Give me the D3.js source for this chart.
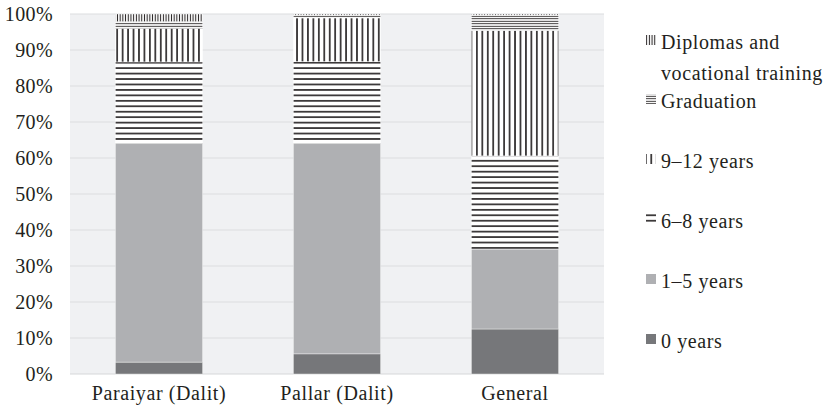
<!DOCTYPE html>
<html>
<head>
<meta charset="utf-8">
<script src="https://cdn.jsdelivr.net/npm/d3@7"></script>
<style>
  body { margin: 0; background: #fff; }
  svg { display: block; }
  text { font-family: "Liberation Serif", "Times New Roman", serif; fill: #231f20; }
</style>
</head>
<body>
<svg id="chart" width="839" height="417"></svg>
<script>
// Educational attainment by community (share of respondents, %)
const categories = ["Paraiyar (Dalit)", "Pallar (Dalit)", "General"];
const seriesNames = ["0 years", "1–5 years", "6–8 years", "9–12 years", "Graduation", "Diplomas and vocational training"];
const zeroYears    = [3.3, 5.6, 12.5];
const oneToFive    = [60.8, 58.5, 22.2];
const sixToEight   = [22.6, 22.7, 25.9];
const nineToTwelve = [9.3, 12.1, 34.8];
const graduation   = [1.9, 0.8, 4.3];
const diplomas     = [2.1, 0.3, 0.3];
const yTicks = [0, 10, 20, 30, 40, 50, 60, 70, 80, 90, 100];

const seriesValues = [zeroYears, oneToFive, sixToEight, nineToTwelve, graduation, diplomas];
const rows = categories.map((c, i) => {
  const r = { category: c };
  seriesNames.forEach((s, j) => { r[s] = seriesValues[j][i]; });
  return r;
});

const svg = d3.select("#chart");
const plot = { left: 70, right: 604, top: 14, bottom: 374 };

const x = d3.scaleBand().domain(categories)
  .range([plot.left, plot.right]).paddingInner(0.51).paddingOuter(0.255);
const y = d3.scaleLinear().domain([0, 100]).range([plot.bottom, plot.top]);

// Hatch patterns
const ink = "#231f20";
const defs = svg.append("defs");
function hatch(id, vertical, period, lw) {
  const p = defs.append("pattern").attr("id", id).attr("patternUnits", "userSpaceOnUse")
    .attr("width", vertical ? period : 10).attr("height", vertical ? 10 : period);
  p.append("rect").attr("width", vertical ? period : 10).attr("height", vertical ? 10 : period).attr("fill", "#fff");
  if (vertical) p.append("rect").attr("x", (period - lw) / 2).attr("y", 0).attr("width", lw).attr("height", 10).attr("fill", ink);
  else p.append("rect").attr("x", 0).attr("y", (period - lw) / 2).attr("width", 10).attr("height", lw).attr("fill", ink);
}
hatch("p-diploma", true, 2.7, 1.0);
hatch("p-grad", false, 2.5, 0.9);
hatch("p-912", true, 5.45, 1.6);
hatch("p-68", false, 5.45, 1.6);

const fills = {
  "0 years": "#76777a",
  "1–5 years": "#afb0b3",
  "6–8 years": "url(#p-68)",
  "9–12 years": "url(#p-912)",
  "Graduation": "url(#p-grad)",
  "Diplomas and vocational training": "url(#p-diploma)"
};

// Plot background and gridlines
svg.append("rect").attr("x", plot.left).attr("y", plot.top)
  .attr("width", plot.right - plot.left).attr("height", plot.bottom - plot.top).attr("fill", "#f0f1f3");
svg.append("g").selectAll("line").data(yTicks).join("line")
  .attr("x1", plot.left).attr("x2", plot.right)
  .attr("y1", d => y(d)).attr("y2", d => y(d))
  .attr("stroke", d => d === 0 ? "#d6d7da" : "#dcdde0").attr("stroke-width", 1.2);

// Stacked bars
const stack = d3.stack().keys(seriesNames)(rows);
svg.append("g").selectAll("g").data(stack).join("g")
  .attr("fill", d => fills[d.key])
  .selectAll("rect").data(d => d).join("rect")
  .attr("x", d => x(d.data.category))
  .attr("width", x.bandwidth())
  .attr("y", d => y(d[1]))
  .attr("height", d => y(d[0]) - y(d[1]))
  .attr("stroke", "#ffffff").attr("stroke-opacity", 0.55).attr("stroke-width", 0.7);

// Axes
const yAxis = svg.append("g").attr("transform", `translate(${plot.left},0)`)
  .call(d3.axisLeft(y).tickValues(yTicks).tickFormat(d => d + "%").tickSize(0).tickPadding(17));
yAxis.select(".domain").remove();
yAxis.selectAll("text").style("font-family", "'Liberation Serif', serif")
  .style("font-size", "20px").attr("fill", ink).attr("letter-spacing", "0.4px");

const xAxis = svg.append("g").attr("transform", `translate(0,${plot.bottom})`)
  .call(d3.axisBottom(x).tickSize(0));
xAxis.select(".domain").remove();
xAxis.selectAll("text").style("font-family", "'Liberation Serif', serif")
  .style("font-size", "20px").attr("fill", ink).attr("letter-spacing", "0.6px")
  .attr("y", 26).attr("dy", 0);

// Legend (top to bottom: highest stack segment first)
const legendItems = [
  { key: "Diplomas and vocational training", lines: ["Diplomas and", "vocational training"], base: 49 },
  { key: "Graduation", lines: ["Graduation"], base: 108 },
  { key: "9–12 years", lines: ["9–12 years"], base: 168 },
  { key: "6–8 years", lines: ["6–8 years"], base: 228 },
  { key: "1–5 years", lines: ["1–5 years"], base: 288 },
  { key: "0 years", lines: ["0 years"], base: 348 }
];
const lg = svg.append("g").selectAll("g").data(legendItems).join("g");
lg.append("rect").attr("x", 646).attr("y", d => d.base - 14)
  .attr("width", 10).attr("height", 10).attr("fill", d => fills[d.key]);
lg.append("text").attr("x", 661).attr("y", d => d.base)
  .style("font-size", "20px").attr("letter-spacing", "0.6px")
  .selectAll("tspan").data(d => d.lines).join("tspan")
  .attr("x", 661).attr("dy", (d, i) => i === 0 ? 0 : 31).text(d => d);
</script>
</body>
</html>
